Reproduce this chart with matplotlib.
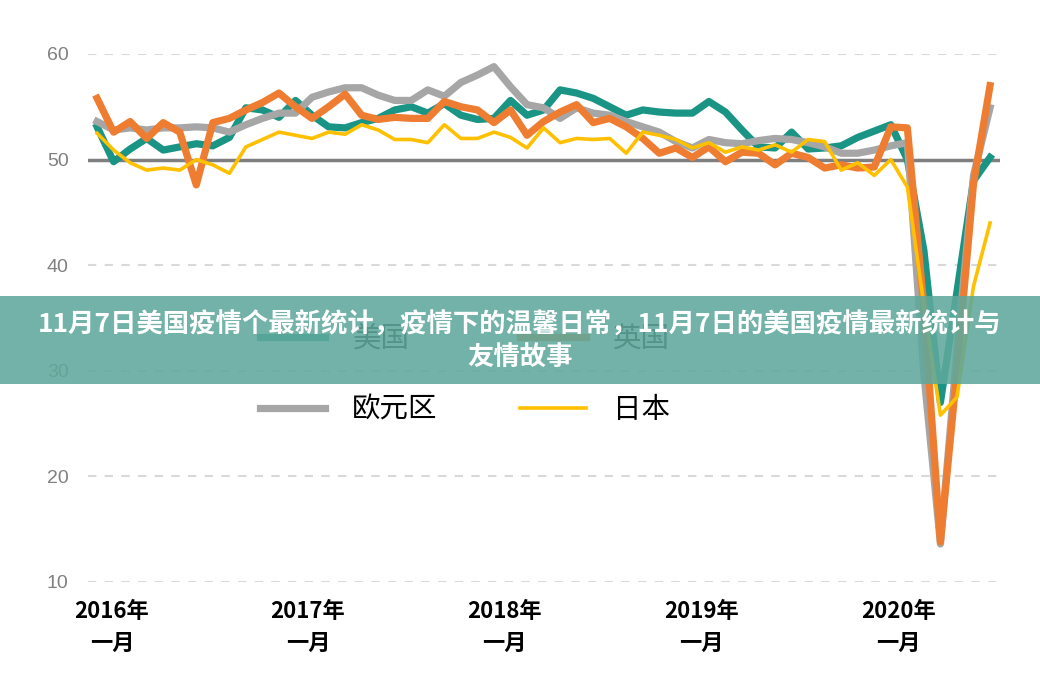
import matplotlib.pyplot as plt
from matplotlib.patches import Rectangle
from matplotlib.lines import Line2D

plt.rcParams['font.family'] = ['Noto Sans CJK SC', 'DejaVu Sans']

# monthly composite PMI, Jan 2016 - Jul 2020
us = [53.1, 49.8, 51.0, 52.0, 50.9, 51.2, 51.5, 51.3, 52.1, 54.9,
      54.7, 54.0, 55.6, 54.2, 53.1, 53.0, 53.5, 53.9, 54.7, 55.0,
      54.4, 55.3, 54.2, 53.8, 53.9, 55.6, 54.2, 54.7, 56.6, 56.3,
      55.8, 55.0, 54.2, 54.7, 54.5, 54.4, 54.4, 55.5, 54.5, 52.8,
      51.2, 51.1, 52.6, 51.0, 51.1, 51.3, 52.1, 52.7, 53.3, 50.0,
      41.4, 27.0, 37.5, 48.0, 50.2]
uk = [55.8, 52.6, 53.6, 52.0, 53.5, 52.6, 47.6, 53.5, 53.9, 54.7,
      55.4, 56.3, 55.0, 53.9, 55.0, 56.2, 54.2, 53.8, 54.0, 53.9,
      53.9, 55.5, 55.0, 54.7, 53.5, 54.7, 52.3, 53.6, 54.5, 55.2,
      53.5, 53.9, 53.1, 52.0, 50.6, 51.1, 50.2, 51.2, 49.8, 50.7,
      50.6, 49.5, 50.6, 50.2, 49.2, 49.5, 49.2, 49.3, 53.1, 53.0,
      36.0, 13.8, 30.0, 47.7, 57.0]
ez = [53.6, 52.8, 53.0, 52.8, 53.0, 53.0, 53.1, 53.0, 52.6, 53.3,
      53.9, 54.4, 54.4, 55.9, 56.4, 56.8, 56.8, 56.1, 55.6, 55.6,
      56.6, 56.0, 57.3, 58.0, 58.8, 56.9, 55.2, 54.9, 53.9, 54.9,
      54.4, 54.2, 53.6, 53.1, 52.6, 51.7, 51.1, 51.9, 51.6, 51.5,
      51.8, 52.0, 51.9, 51.6, 51.2, 50.6, 50.6, 50.9, 51.3, 51.6,
      29.7, 13.6, 31.9, 48.5, 54.9]
jp = [52.5, 50.9, 49.7, 49.0, 49.2, 49.0, 50.0, 49.5, 48.7, 51.2,
      51.9, 52.6, 52.3, 52.0, 52.6, 52.4, 53.3, 52.8, 51.9, 51.9,
      51.6, 53.3, 52.0, 52.0, 52.6, 52.1, 51.1, 53.0, 51.6, 52.0,
      51.9, 52.0, 50.6, 52.6, 52.3, 51.9, 51.1, 51.6, 50.7, 51.2,
      50.9, 51.4, 50.7, 51.9, 51.7, 49.0, 49.7, 48.5, 50.0, 47.4,
      36.2, 25.8, 27.5, 38.0, 44.0]
months = list(range(len(us)))

names = ['美国', '英国', '欧元区', '日本']
colors = ['#1a9484', '#ee7d31', '#a6a6a6', '#ffc000']
year_labels = ['2016年\n一月', '2017年\n一月', '2018年\n一月', '2019年\n一月', '2020年\n一月']
year_ticks = [0.9, 12.75, 24.65, 36.55, 48.45]
yticks = [10, 20, 30, 40, 50, 60]

title = '11月7日美国疫情个最新统计，疫情下的温馨日常，11月7日的美国疫情最新统计与\n友情故事'

fig = plt.figure(figsize=(10.4, 6.78), dpi=100)
ax = fig.add_axes([0.0846, 0.1416, 0.8769, 0.7788])

ax.plot(months, us, color=colors[0], lw=5.2, solid_joinstyle='round', zorder=3)
ax.plot(months, ez, color=colors[2], lw=5.2, solid_joinstyle='round', zorder=3)
ax.plot(months, uk, color=colors[1], lw=5.2, solid_joinstyle='round', zorder=4)
ax.plot(months, jp, color=colors[3], lw=2.6, solid_joinstyle='round', zorder=5)

ax.set_xlim(-0.55, 54.6)
ax.set_ylim(10, 60)
for s in ax.spines.values():
    s.set_visible(False)

ax.grid(axis='y', color='#d9d9d9', linestyle=(0, (4, 4)), lw=1.5, zorder=1)
ax.axhline(50, color='#7f7f7f', lw=2.5, zorder=2)

ax.set_yticks(yticks)
ax.tick_params(axis='y', length=0, pad=14, labelsize=14, labelcolor='#808080')
for lbl in ax.get_yticklabels():
    lbl.set_family(['Liberation Sans Narrow', 'Liberation Sans', 'DejaVu Sans'])

ax.set_xticks(year_ticks)
ax.set_xticklabels(year_labels, fontsize=16, fontweight='bold', linespacing=1.5)
ax.tick_params(axis='x', length=0, pad=13)

handles = [Line2D([], [], color=colors[0], lw=5.2),
           Line2D([], [], color=colors[2], lw=5.2),
           Line2D([], [], color=colors[1], lw=5.2),
           Line2D([], [], color=colors[3], lw=2.6)]
ax.legend(handles, [names[0], names[2], names[1], names[3]], ncol=2,
          loc='center', bbox_to_anchor=(0.447, 0.448), bbox_transform=fig.transFigure,
          frameon=False, fontsize=20.5, handlelength=2.3, handletextpad=0.95,
          columnspacing=2.9, labelspacing=1.45)

# translucent banner with the headline over the chart
fig.add_artist(Rectangle((0, 0.4336), 1, 0.1298, transform=fig.transFigure,
                         facecolor='#5fa89c', edgecolor='none', alpha=0.88, zorder=5))
fig.text(0.5, 0.497, title, ha='center', va='center', color='white',
         fontsize=19, fontweight='bold', linespacing=1.25, zorder=6)

fig.savefig('out.png', dpi=100)
